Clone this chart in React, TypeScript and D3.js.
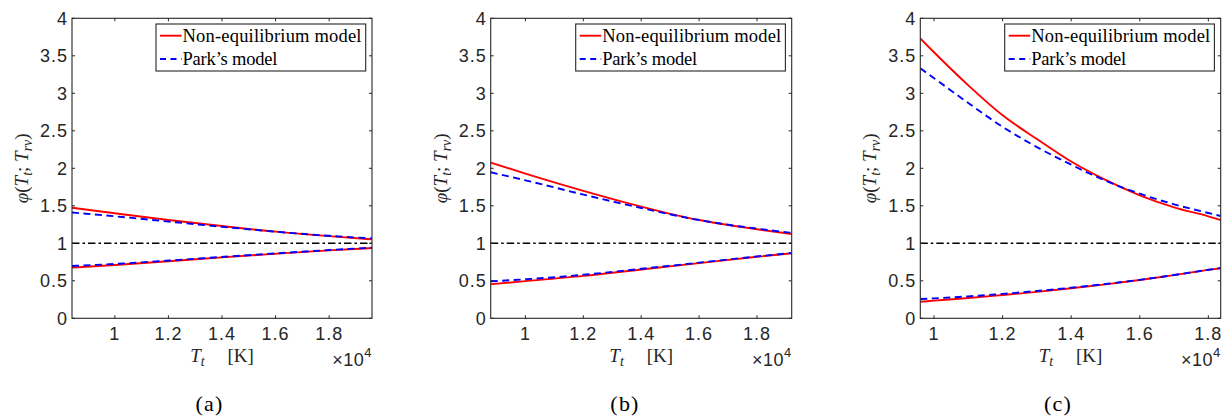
import React from 'react';
import * as d3 from 'd3';

// ---------- data (x in units of 10^4 K) ----------
const xA = [0.84, 1.0, 1.2, 1.4, 1.6, 1.8, 1.96];
const redUpperA = [1.475, 1.4, 1.31, 1.23, 1.155, 1.095, 1.053];
const blueUpperA = [1.41, 1.36, 1.29, 1.22, 1.155, 1.1, 1.065];
const redLowerA = [0.675, 0.71, 0.76, 0.813, 0.86, 0.905, 0.937];
const blueLowerA = [0.698, 0.725, 0.77, 0.818, 0.865, 0.91, 0.942];

const xB = [0.88, 1.0, 1.2, 1.4, 1.6, 1.8, 1.92];
const redUpperB = [2.075, 1.93, 1.7, 1.49, 1.31, 1.187, 1.124];
const blueUpperB = [1.947, 1.84, 1.65, 1.47, 1.31, 1.195, 1.14];
const redLowerB = [0.455, 0.495, 0.565, 0.65, 0.735, 0.82, 0.867];
const blueLowerB = [0.493, 0.52, 0.58, 0.66, 0.742, 0.825, 0.87];

const xC = [0.96, 1.0, 1.1, 1.2, 1.3, 1.4, 1.5, 1.6, 1.7, 1.8, 1.836];
const redUpperC = [3.733, 3.547, 3.106, 2.707, 2.39, 2.09, 1.845, 1.64, 1.48, 1.36, 1.31];
const blueUpperC = [3.333, 3.202, 2.87, 2.553, 2.283, 2.048, 1.835, 1.661, 1.52, 1.404, 1.364];
const redLowerC = [0.221, 0.235, 0.27, 0.31, 0.352, 0.4, 0.452, 0.51, 0.575, 0.645, 0.667];
const blueLowerC = [0.257, 0.266, 0.292, 0.326, 0.364, 0.408, 0.457, 0.513, 0.577, 0.647, 0.67];

const yTicks = [0, 0.5, 1, 1.5, 2, 2.5, 3, 3.5, 4];
const yTickLabels = ['0', '0.5', '1', '1.5', '2', '2.5', '3', '3.5', '4'];
const xTicks = [1, 1.2, 1.4, 1.6, 1.8];
const xTickLabels = ['1', '1.2', '1.4', '1.6', '1.8'];
const refValue = 1;
const legendLabels = ['Non-equilibrium model', 'Park\u2019s model'];
const panelCaptions = ['(a)', '(b)', '(c)'];

// ---------- layout ----------
const W = 1222;
const H = 420;
const TOP = 18.3;
const BOTTOM = 318.3;
const AXIS = '#262626';
const SANS = 'Liberation Sans, Arial, Helvetica, sans-serif';
const SERIF = 'Liberation Serif, Times New Roman, serif';

interface PanelCfg {
  id: string;
  xs: number[];
  redU: number[];
  blueU: number[];
  redL: number[];
  blueL: number[];
  domain: [number, number];
  left: number;
  right: number;
  captionX: number;
  caption: string;
}

const panels: PanelCfg[] = [
  { id: 'a', xs: xA, redU: redUpperA, blueU: blueUpperA, redL: redLowerA, blueL: blueLowerA,
    domain: [xA[0], xA[xA.length - 1]], left: 72, right: 372, captionX: 209.5, caption: panelCaptions[0] },
  { id: 'b', xs: xB, redU: redUpperB, blueU: blueUpperB, redL: redLowerB, blueL: blueLowerB,
    domain: [xB[0], xB[xB.length - 1]], left: 490.7, right: 791.7, captionX: 625, caption: panelCaptions[1] },
  { id: 'c', xs: xC, redU: redUpperC, blueU: blueUpperC, redL: redLowerC, blueL: blueLowerC,
    domain: [xC[0], xC[xC.length - 1]], left: 920.3, right: 1220.7, captionX: 1058, caption: panelCaptions[2] },
];

function Panel({ cfg }: { cfg: PanelCfg }) {
  const x = d3.scaleLinear().domain(cfg.domain).range([cfg.left, cfg.right]);
  const y = d3.scaleLinear().domain([0, 4]).range([BOTTOM, TOP]);
  const mk = (vals: number[]) =>
    d3.line<number>()
      .x((_, i) => x(cfg.xs[i]))
      .y((d) => y(d))
      .curve(d3.curveMonotoneX)(vals) || '';
  const tick = 3;
  const clipId = `clip-${cfg.id}`;
  const legL = cfg.right - 216;
  const legT = TOP + 5.7;
  const legW = 209.7;
  const legH = 47;
  const cx = (cfg.left + cfg.right) / 2;

  return (
    <g>
      <defs>
        <clipPath id={clipId}>
          <rect x={cfg.left} y={TOP} width={cfg.right - cfg.left} height={BOTTOM - TOP} />
        </clipPath>
      </defs>
      <rect x={cfg.left} y={TOP} width={cfg.right - cfg.left} height={BOTTOM - TOP} fill="#fff" />
      <g clipPath={`url(#${clipId})`}>
        <path d={mk(cfg.redU)} fill="none" stroke="#ff0000" strokeWidth={1.9} />
        <path d={mk(cfg.blueU)} fill="none" stroke="#0000ff" strokeWidth={1.9} strokeDasharray="7,4.5" />
        <path d={mk(cfg.redL)} fill="none" stroke="#ff0000" strokeWidth={1.9} />
        <path d={mk(cfg.blueL)} fill="none" stroke="#0000ff" strokeWidth={1.9} strokeDasharray="7,4.5" />
        <line x1={cfg.left} x2={cfg.right} y1={y(refValue)} y2={y(refValue)}
          stroke="#000" strokeWidth={1.6} strokeDasharray="7.5,3,2.5,3" />
      </g>
      {/* axes box */}
      <rect x={cfg.left} y={TOP} width={cfg.right - cfg.left} height={BOTTOM - TOP}
        fill="none" stroke={AXIS} strokeWidth={1.1} />
      {xTicks.map((t, i) => (
        <g key={`xt${i}`}>
          <line x1={x(t)} x2={x(t)} y1={BOTTOM} y2={BOTTOM - tick} stroke={AXIS} />
          <line x1={x(t)} x2={x(t)} y1={TOP} y2={TOP + tick} stroke={AXIS} />
          <text x={x(t)} y={339.5} textAnchor="middle" fontFamily={SANS} fontSize={18}
            fill={AXIS} letterSpacing={1}>{xTickLabels[i]}</text>
        </g>
      ))}
      {yTicks.map((t, i) => (
        <g key={`yt${i}`}>
          <line x1={cfg.left} x2={cfg.left + tick} y1={y(t)} y2={y(t)} stroke={AXIS} />
          <line x1={cfg.right} x2={cfg.right - tick} y1={y(t)} y2={y(t)} stroke={AXIS} />
          <text x={cfg.left - 4} y={y(t) + 6.3} textAnchor="end" fontFamily={SANS} fontSize={18}
            fill={AXIS} letterSpacing={1}>{yTickLabels[i]}</text>
        </g>
      ))}
      {/* x label */}
      <text x={cx} y={362} textAnchor="middle" fontFamily={SERIF} fontSize={19} fill={AXIS}>
        <tspan fontStyle="italic">T</tspan>
        <tspan fontStyle="italic" fontSize={14} dy={4}>t</tspan>
        <tspan dy={-4}>{'\u2003\u2009[K]'}</tspan>
      </text>
      {/* exponent */}
      <text x={cfg.right} y={366} textAnchor="end" fontFamily={SANS} fontSize={18} fill={AXIS}
        letterSpacing={0.5}>
        <tspan>{'\u00d710'}</tspan>
        <tspan fontSize={13} dy={-9}>4</tspan>
      </text>
      {/* y label */}
      <text transform={`translate(${cfg.left - 44},${(TOP + BOTTOM) / 2}) rotate(-90)`}
        textAnchor="middle" fontFamily={SERIF} fontSize={19} fill={AXIS}>
        <tspan fontStyle="italic">{'\u03c6'}</tspan>
        <tspan>(</tspan>
        <tspan fontStyle="italic">T</tspan>
        <tspan fontStyle="italic" fontSize={14} dy={4}>t</tspan>
        <tspan dy={-4}>; </tspan>
        <tspan fontStyle="italic">T</tspan>
        <tspan fontStyle="italic" fontSize={14} dy={4}>rv</tspan>
        <tspan dy={-4}>)</tspan>
      </text>
      {/* legend */}
      <rect x={legL} y={legT} width={legW} height={legH} fill="#fff" stroke={AXIS} strokeWidth={1.1} />
      <line x1={legL + 4} x2={legL + 25.5} y1={legT + 11.7} y2={legT + 11.7} stroke="#ff0000" strokeWidth={1.9} />
      <line x1={legL + 4} x2={legL + 25.5} y1={legT + 35} y2={legT + 35} stroke="#0000ff" strokeWidth={1.9}
        strokeDasharray="6,4.5" />
      <text x={legL + 26.5} y={legT + 17.5} fontFamily={SERIF} fontSize={18.5} fill="#000"
        textLength={179} lengthAdjust="spacing">{legendLabels[0]}</text>
      <text x={legL + 26.5} y={legT + 40.5} fontFamily={SERIF} fontSize={18.5} fill="#000"
        textLength={95} lengthAdjust="spacing">{legendLabels[1]}</text>
      {/* caption */}
      <text x={cfg.captionX} y={411} textAnchor="middle" fontFamily={SERIF} fontSize={22} fill="#000"
        letterSpacing={1.2}>
        {cfg.caption}
      </text>
    </g>
  );
}

export default function App() {
  return (
    <svg width={W} height={H} viewBox={`0 0 ${W} ${H}`}
      style={{ position: 'absolute', left: 0, top: 0, background: '#fff', display: 'block' }}>
      <rect width={W} height={H} fill="#fff" />
      {panels.map((p) => <Panel key={p.id} cfg={p} />)}
    </svg>
  );
}
